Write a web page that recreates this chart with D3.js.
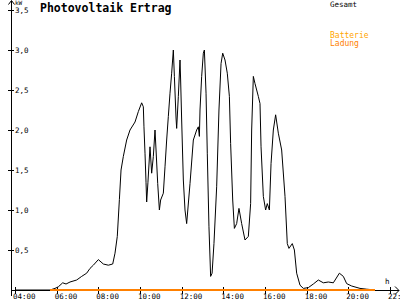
<!DOCTYPE html>
<html>
<head>
<meta charset="utf-8">
<script src="https://cdn.jsdelivr.net/npm/d3@7"></script>
<style>
  body { margin: 0; background: #fff; }
  svg { display: block; font-family: "DejaVu Sans Mono", monospace; }
</style>
</head>
<body>
<div id="chart"></div>
<script>
// hours of day and total power in kW (Gesamt)
const hours = [4.00, 5.68, 5.92, 6.08, 6.29, 6.45, 6.64, 6.96, 7.20, 7.44, 7.60, 7.76, 8.00, 8.24, 8.48, 8.69,
  8.80, 8.91, 9.01, 9.09, 9.20, 9.36, 9.52, 9.76, 9.92, 10.08, 10.16, 10.19, 10.24, 10.29, 10.32, 10.38,
  10.48, 10.56, 10.64, 10.72, 10.77, 10.85, 10.93, 10.99, 11.12, 11.20, 11.28, 11.36, 11.44, 11.52, 11.60,
  11.65, 11.73, 11.76, 11.84, 11.92, 11.95, 12.00, 12.08, 12.16, 12.24, 12.40, 12.56, 12.72, 12.80, 12.85,
  12.88, 12.96, 13.04, 13.09, 13.17, 13.23, 13.31, 13.39, 13.46, 13.55, 13.68, 13.79, 13.89, 13.97, 14.08,
  14.19, 14.29, 14.35, 14.45, 14.53, 14.64, 14.75, 14.88, 15.04, 15.20, 15.31, 15.36, 15.44, 15.52, 15.68,
  15.76, 15.81, 15.92, 16.03, 16.11, 16.21, 16.29, 16.40, 16.51, 16.64, 16.80, 16.96, 17.07, 17.15, 17.31,
  17.41, 17.52, 17.68, 17.84, 18.08, 18.32, 18.56, 18.80, 19.04, 19.28, 19.57, 19.76, 19.92, 20.16, 20.56,
  20.88, 21.28];
const gesamt = [0, 0, 0.02, 0.04, 0.09, 0.075, 0.10, 0.125, 0.17, 0.21, 0.27, 0.31, 0.38, 0.325, 0.31, 0.325,
  0.46, 0.67, 1.13, 1.50, 1.67, 1.875, 2.00, 2.10, 2.23, 2.34, 2.29, 2.04, 1.71, 1.34, 1.10, 1.34,
  1.79, 1.46, 1.67, 2.00, 1.75, 1.33, 1.00, 1.125, 1.21, 1.54, 1.875, 2.17, 2.46, 2.71, 3.00,
  2.67, 2.15, 2.02, 2.42, 2.875, 2.625, 2.125, 1.375, 1.00, 0.83, 1.33, 1.875, 2.00, 2.04, 1.92,
  2.25, 2.67, 2.96, 3.00, 2.46, 1.71, 0.79, 0.17, 0.21, 0.58, 1.29, 2.25, 2.83, 2.96, 2.875,
  2.71, 2.42, 1.83, 1.125, 0.77, 0.83, 1.02, 0.83, 0.625, 0.67, 1.08, 2.00, 2.67, 2.58, 2.42,
  2.33, 1.79, 1.17, 1.00, 1.08, 1.00, 1.58, 2.00, 2.19, 1.96, 1.75, 1.17, 0.58, 0.52, 0.58,
  0.50, 0.21, 0.06, 0.02, 0.03, 0.075, 0.125, 0.09, 0.10, 0.09, 0.21, 0.17, 0.08, 0.05, 0.02,
  0.01, 0];

// battery charge (Ladung)
const ladungHours = [5.68, 21.28];
const ladungValues = [0, 0];

const xTicks = [4, 6, 8, 10, 12, 14, 16, 18, 20, 22];
const xTickLabels = ['04:00', '06:00', '08:00', '10:00', '12:00', '14:00', '16:00', '18:00', '20:00', '22:00'];
const yTicks = [0.5, 1, 1.5, 2, 2.5, 3, 3.5];
const yTickLabels = ['0,5', '1,0', '1,5', '2,0', '2,5', '3,0', '3,5'];

const width = 400, height = 300;
const axisX = 11, baseY = 290;

const svg = d3.select('#chart').append('svg')
  .attr('width', width)
  .attr('height', height);

const x = d3.scaleLinear().domain([4, 22]).range([15, 390]);
const y = d3.scaleLinear().domain([0, 3.5]).range([baseY, 10]);

// title
svg.append('text')
  .attr('x', 40).attr('y', 12)
  .attr('font-size', '11.5px')
  .attr('font-weight', 'bold')
  .text('Photovoltaik Ertrag');

// legend
svg.append('text').attr('x', 330).attr('y', 7).attr('font-size', '7.5px').text('Gesamt');
svg.append('text').attr('x', 330).attr('y', 38).attr('font-size', '8px').attr('fill', '#ffa500').text('Batterie');
svg.append('text').attr('x', 330).attr('y', 46).attr('font-size', '8px').attr('fill', '#ff8000').text('Ladung');

// y axis
const yAxis = svg.append('g').attr('shape-rendering', 'crispEdges');
yAxis.append('line')
  .attr('x1', axisX + 0.5).attr('x2', axisX + 0.5)
  .attr('y1', 1).attr('y2', 296)
  .attr('stroke', '#000');
yAxis.append('path')
  .attr('d', `M${axisX - 2.5},4.5 L${axisX + 0.5},0.5 L${axisX + 3.5},4.5`)
  .attr('fill', 'none').attr('stroke', '#000')
  .attr('shape-rendering', 'auto');
yAxis.selectAll('.ytick')
  .data(yTicks)
  .join('line')
  .attr('class', 'ytick')
  .attr('x1', axisX - 3).attr('x2', axisX + 3)
  .attr('y1', d => Math.round(y(d)) + 0.5)
  .attr('y2', d => Math.round(y(d)) + 0.5)
  .attr('stroke', '#000');
yAxis.selectAll('.ylabel')
  .data(yTicks)
  .join('text')
  .attr('class', 'ylabel')
  .attr('x', 15)
  .attr('y', d => y(d) + 2.5)
  .attr('font-size', '7.5px')
  .text((d, i) => yTickLabels[i]);
svg.append('text')
  .attr('x', 15).attr('y', 5)
  .attr('font-size', '6px')
  .text('kW');

// x axis
const xAxis = svg.append('g').attr('shape-rendering', 'crispEdges');
xAxis.append('line')
  .attr('x1', axisX).attr('x2', 399)
  .attr('y1', baseY + 0.5).attr('y2', baseY + 0.5)
  .attr('stroke', '#000');
xAxis.append('path')
  .attr('d', `M395,${baseY - 3.5} L399,${baseY + 0.5} L395,${baseY + 4.5}`)
  .attr('fill', 'none').attr('stroke', '#000')
  .attr('shape-rendering', 'auto');
xAxis.selectAll('.xtick')
  .data(xTicks)
  .join('line')
  .attr('class', 'xtick')
  .attr('x1', d => Math.round(x(d)) + 0.5)
  .attr('x2', d => Math.round(x(d)) + 0.5)
  .attr('y1', baseY - 3).attr('y2', baseY + 4)
  .attr('stroke', '#000');
xAxis.selectAll('.xlabel')
  .data(xTicks)
  .join('text')
  .attr('class', 'xlabel')
  .attr('x', d => Math.max(10, x(d) - 2))
  .attr('y', 299)
  .attr('font-size', '7.5px')
  .text((d, i) => xTickLabels[i]);
svg.append('text')
  .attr('x', 385).attr('y', 284)
  .attr('font-size', '7.5px')
  .text('h');

// series
const line = d3.line()
  .x(d => x(d[0]))
  .y(d => y(d[1]));

svg.append('path')
  .datum(hours.map((h, i) => [h, gesamt[i]]))
  .attr('d', line)
  .attr('fill', 'none')
  .attr('stroke', '#000')
  .attr('stroke-width', 1);

svg.append('path')
  .datum(ladungHours.map((h, i) => [h, ladungValues[i]]))
  .attr('d', line)
  .attr('fill', 'none')
  .attr('stroke', '#ff8000')
  .attr('stroke-width', 2);
</script>
</body>
</html>
